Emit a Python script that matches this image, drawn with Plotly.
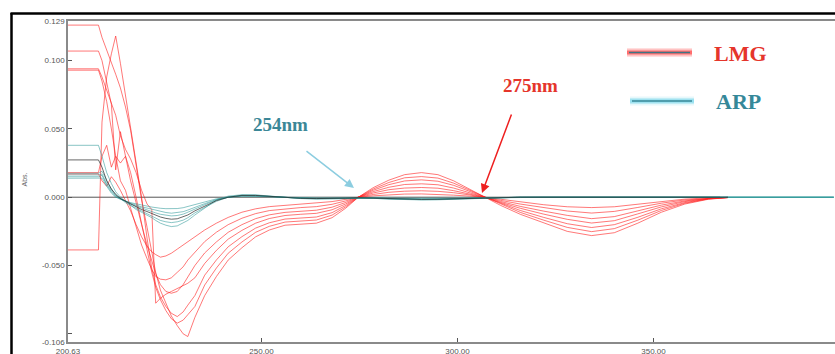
import plotly.graph_objects as go

# Wavelength grid (nm) shared by every spectrum
WAVELENGTH = [200.63, 208.4, 209.3, 210.5, 211.7, 212.8, 214.0, 215.3, 216.6, 218.0,
              219.4, 220.8, 222.0, 223.0, 224.2, 225.6, 227.0, 228.5, 230.0, 231.2,
              233.0, 235.5, 238.5, 241.5, 245.0, 248.5, 252.0, 256.0, 260.0, 264.0,
              268.0, 271.5, 274.7, 278.5, 282.5, 286.5, 290.8, 295.0, 299.0, 303.0,
              306.9, 311.0, 316.0, 322.0, 328.0, 334.2, 340.0, 346.0, 352.0, 358.0,
              364.0, 369.0, 380.0, 396.0]

# LMG derivative spectra (Abs.)
LMG_1 = [0.017, 0.017, 0.012, 0.008, 0.015, 0.011, 0.005, -0.002, -0.010, -0.020,
         -0.029, -0.036, -0.040, -0.042, -0.0439, -0.043, -0.041, -0.038, -0.035, -0.032,
         -0.029, -0.024, -0.019, -0.0148, -0.011, -0.0085, -0.0069, -0.006, -0.0052, -0.0044,
         -0.0032, -0.0016, 0.0, 0.001, 0.0018, 0.0023, 0.0024, 0.0021, 0.0015, 0.0008,
         0.0, -0.0015, -0.0035, -0.0055, -0.007, -0.0076, -0.007, -0.0052, -0.003, -0.0014,
         -0.0005, -0.0001, None, None]
LMG_2 = [0.018, 0.018, 0.030, 0.038, 0.022, 0.030, 0.012, 0.005, -0.008, -0.022,
         -0.035, -0.045, -0.053, -0.058, -0.060, -0.0605, -0.059, -0.055, -0.051, -0.046,
         -0.040, -0.0325, -0.0256, -0.0201, -0.0154, -0.012, -0.0098, -0.0085, -0.0076, -0.0069,
         -0.0052, -0.0027, 0.0, 0.002, 0.0036, 0.0044, 0.0047, 0.0043, 0.0033, 0.0017,
         0.0, -0.0023, -0.005, -0.0078, -0.0101, -0.0116, -0.0104, -0.0075, -0.0044, -0.002,
         -0.0007, -0.0001, None, None]
LMG_3 = [0.093, 0.093, 0.085, 0.070, 0.050, 0.030, 0.025, 0.030, 0.012, -0.005,
         -0.020, -0.035, -0.047, -0.056, -0.064, -0.069, -0.0703, -0.069, -0.064, -0.058,
         -0.050, -0.0408, -0.0327, -0.0257, -0.0201, -0.0157, -0.0129, -0.0111, -0.0102, -0.0095,
         -0.0073, -0.0038, 0.0, 0.0031, 0.0055, 0.0067, 0.0071, 0.0066, 0.0048, 0.0026,
         0.0, -0.0031, -0.0067, -0.0102, -0.0133, -0.0157, -0.0142, -0.010, -0.0058, -0.0027,
         -0.0009, -0.0002, None, None]
LMG_4 = [0.094, 0.094, 0.088, 0.078, 0.068, 0.060, 0.045, 0.035, 0.028, 0.018,
         0.005, -0.005, -0.009, -0.0776, -0.074, -0.071, -0.069, -0.067, -0.065, -0.063,
         -0.059, -0.0485, -0.0389, -0.0307, -0.0243, -0.019, -0.0156, -0.0134, -0.0125, -0.0118,
         -0.0092, -0.0049, 0.0, 0.0041, 0.0073, 0.0093, 0.0098, 0.0091, 0.0067, 0.0035,
         0.0, -0.0038, -0.0081, -0.0124, -0.0162, -0.0189, -0.0172, -0.0122, -0.0071, -0.0032,
         -0.001, -0.0002, None, None]
LMG_5 = [-0.0386, -0.0386, 0.055, 0.088, 0.105, 0.118, 0.098, 0.075, 0.050, 0.025,
         0.000, -0.030, -0.052, -0.064, -0.073, -0.080, -0.085, -0.0874, -0.084, -0.079,
         -0.072, -0.0571, -0.0459, -0.0363, -0.0289, -0.0226, -0.0187, -0.016, -0.0151, -0.0145,
         -0.0113, -0.006, 0.0, 0.0051, 0.0092, 0.0119, 0.0127, 0.0117, 0.0087, 0.0044,
         0.0, -0.0046, -0.0097, -0.0148, -0.0194, -0.0222, -0.0201, -0.0147, -0.0085, -0.0039,
         -0.0012, -0.0002, None, None]
LMG_6 = [0.107, 0.107, 0.100, 0.085, 0.068, 0.020, 0.048, 0.030, 0.018, 0.000,
         -0.020, -0.040, -0.055, -0.066, -0.075, -0.083, -0.089, -0.0922, -0.090, -0.086,
         -0.080, -0.0643, -0.0518, -0.041, -0.0328, -0.0257, -0.0213, -0.0182, -0.0172, -0.0167,
         -0.0131, -0.007, 0.0, 0.006, 0.0108, 0.0142, 0.0151, 0.014, 0.0103, 0.0052,
         0.0, -0.0053, -0.0111, -0.0168, -0.0221, -0.0252, -0.023, -0.0168, -0.0097, -0.0044,
         -0.0013, -0.0003, None, None]
LMG_7 = [0.126, 0.126, 0.117, 0.108, 0.098, 0.090, 0.080, 0.066, 0.049, 0.025,
         -0.002, -0.022, -0.040, -0.055, -0.068, -0.078, -0.087, -0.094, -0.100, -0.102,
         -0.088, -0.072, -0.058, -0.046, -0.037, -0.029, -0.024, -0.0205, -0.0195, -0.019,
         -0.015, -0.008, 0.0, 0.007, 0.0125, 0.0165, 0.018, 0.0165, 0.012, 0.006,
         0.0, -0.006, -0.0125, -0.019, -0.025, -0.0281, -0.026, -0.019, -0.011, -0.005,
         -0.0015, -0.0003, None, None]

# ARP derivative spectra (Abs.)
ARP_1 = [0.038, 0.038, 0.030, 0.018, 0.010, 0.004, 0.000, -0.003, -0.006, -0.009,
         -0.011, -0.013, -0.015, -0.017, -0.019, -0.0205, -0.0215, -0.021, -0.019, -0.017,
         -0.013, -0.008, -0.002, 0.0008, 0.0018, 0.0017, 0.0008, -0.0004, -0.001, -0.0013,
         -0.0012, -0.0008, -0.0005, -0.0008, -0.0014, -0.0018, -0.002, -0.0019, -0.0015, -0.001,
         -0.0004, 0.0, 0.0, 0.0, 0.0, 0.0002, 0.0004, 0.0002, 0.0, 0.0,
         0.0, 0.0, 0.0, 0.0]
ARP_2 = [0.0175, 0.0175, 0.019, 0.012, 0.006, 0.002, -0.001, -0.004, -0.006, -0.008,
         -0.010, -0.012, -0.014, -0.0155, -0.017, -0.018, -0.0186, -0.018, -0.0168, -0.015,
         -0.0115, -0.0075, -0.003, 0.0, 0.0015, 0.0015, 0.0007, -0.0004, -0.0009, -0.0012,
         -0.0011, -0.0008, -0.0005, -0.0008, -0.0013, -0.0017, -0.0018, -0.0017, -0.0013, -0.0009,
         -0.0004, 0.0, 0.0, 0.0, 0.0, 0.0, 0.0, 0.0, 0.0, 0.0,
         0.0, 0.0, 0.0, 0.0]
ARP_3 = [0.0163, 0.0163, 0.017, 0.010, 0.005, 0.001, -0.001, -0.003, -0.005, -0.0065,
         -0.008, -0.009, -0.0105, -0.0115, -0.0125, -0.0132, -0.0137, -0.0134, -0.0124, -0.011,
         -0.0085, -0.0055, -0.002, 0.0, 0.0011, 0.0011, 0.0005, -0.0003, -0.0007, -0.0009,
         -0.0009, -0.0006, -0.0004, -0.0006, -0.001, -0.0013, -0.0014, -0.0013, -0.001, -0.0007,
         -0.0003, 0.0, 0.0, 0.0, 0.0, 0.0, 0.0, 0.0, 0.0, 0.0,
         0.0, 0.0, 0.0, 0.0]
ARP_4 = [0.015, 0.015, 0.016, 0.009, 0.004, 0.0005, -0.0015, -0.003, -0.0045, -0.0058,
         -0.007, -0.008, -0.009, -0.0098, -0.0106, -0.0112, -0.0117, -0.0114, -0.0106, -0.0094,
         -0.0073, -0.0047, -0.0017, 0.0, 0.0009, 0.0009, 0.0004, -0.0002, -0.0006, -0.0008,
         -0.0008, -0.0005, -0.0003, -0.0005, -0.0009, -0.0011, -0.0012, -0.0011, -0.0009, -0.0006,
         -0.0003, 0.0, 0.0, 0.0, 0.0, 0.0, 0.0, 0.0, 0.0, 0.0,
         0.0, 0.0, 0.0, 0.0]
ARP_5 = [0.0139, 0.0139, 0.014, 0.008, 0.003, 0.0, -0.0015, -0.0028, -0.004, -0.005,
         -0.0058, -0.0065, -0.0072, -0.0077, -0.0081, -0.0084, -0.0085, -0.0083, -0.0077, -0.0068,
         -0.0053, -0.0034, -0.0012, 0.0, 0.0007, 0.0007, 0.0003, -0.0002, -0.0004, -0.0006,
         -0.0006, -0.0004, -0.0002, -0.0004, -0.0007, -0.0008, -0.0009, -0.0008, -0.0007, -0.0005,
         -0.0002, 0.0, 0.0, 0.0, 0.0, 0.0, 0.0, 0.0, 0.0, 0.0,
         0.0, 0.0, 0.0, 0.0]
ARP_REF = [0.0273, 0.0273, 0.022, 0.012, 0.006, 0.002, -0.001, -0.003, -0.005, -0.007,
           -0.009, -0.0105, -0.012, -0.013, -0.0145, -0.0155, -0.0161, -0.0158, -0.0145, -0.013,
           -0.010, -0.0065, -0.0025, 0.0, 0.0013, 0.0013, 0.0006, -0.0003, -0.0008, -0.001,
           -0.001, -0.0007, -0.0004, -0.0007, -0.0012, -0.0015, -0.0016, -0.0015, -0.0012, -0.0008,
           -0.0003, 0.0, 0.0, 0.0, 0.0, 0.0, 0.0, 0.0, 0.0, 0.0,
           0.0, 0.0, None, None]

# dark zero baseline of the instrument trace
BASELINE_X = [200.63, 367.0]
BASELINE_Y = [0.0, 0.0]

LMG_SERIES = [LMG_1, LMG_2, LMG_3, LMG_4, LMG_5, LMG_6, LMG_7]
ARP_SERIES = [ARP_1, ARP_2, ARP_3, ARP_4, ARP_5]

X_TICKS = [200.63, 250, 300, 350]
X_TICK_TEXT = ["200.63", "250.00", "300.00", "350.00"]
Y_TICKS = [0.129, 0.1, 0.05, 0.0, -0.05, -0.1, -0.106]
Y_TICK_TEXT = ["0.129", "0.100", "0.050", "0.000", "-0.050", "", "-0.106"]

X_RANGE = [200.63, 396.3]
Y_RANGE = [-0.106, 0.129]

W, H = 835, 354
ML, MT, MB, MR = 68, 21, 12, 0
PW, PH = W - ML - MR, H - MT - MB


def px(x):
    return (x - ML) / PW


def py(y):
    return (H - MB - y) / PH


fig = go.Figure()

fig.add_trace(go.Scatter(x=BASELINE_X, y=BASELINE_Y, mode="lines",
                         line=dict(color="#555555", width=1),
                         hoverinfo="skip", showlegend=False))
for ys in LMG_SERIES:
    fig.add_trace(go.Scatter(x=WAVELENGTH, y=ys, mode="lines",
                             line=dict(color="rgba(255,30,30,0.6)", width=1),
                             hoverinfo="skip", showlegend=False))
for ys in ARP_SERIES:
    fig.add_trace(go.Scatter(x=WAVELENGTH, y=ys, mode="lines",
                             line=dict(color="rgba(40,150,150,0.55)", width=1),
                             hoverinfo="skip", showlegend=False))
fig.add_trace(go.Scatter(x=WAVELENGTH, y=ARP_REF, mode="lines",
                         line=dict(color="rgba(40,40,40,0.7)", width=1),
                         hoverinfo="skip", showlegend=False))

shapes = []
# outer black frame (top and left edges)
shapes.append(dict(type="line", xref="paper", yref="paper",
                   x0=px(11.5), x1=px(11.5), y0=py(13), y1=py(360),
                   line=dict(color="black", width=2.5)))
shapes.append(dict(type="line", xref="paper", yref="paper",
                   x0=px(10.5), x1=px(840), y0=py(13.5), y1=py(13.5),
                   line=dict(color="black", width=2.5)))

# legend swatches with soft glow
def glow_line(x0, x1, y, glow, core):
    out = []
    for wdt, col in [(9, glow.format(0.18)), (6, glow.format(0.35)), (3.5, glow.format(0.6))]:
        out.append(dict(type="line", xref="paper", yref="paper",
                        x0=px(x0), x1=px(x1), y0=py(y), y1=py(y),
                        line=dict(color=col, width=wdt)))
    out.append(dict(type="line", xref="paper", yref="paper",
                    x0=px(x0 + 2), x1=px(x1 - 2), y0=py(y), y1=py(y),
                    line=dict(color=core, width=1.3)))
    return out

shapes += glow_line(627, 692, 52.5, "rgba(255,70,70,{})", "#3f7585")
shapes += glow_line(630, 694, 101, "rgba(120,215,235,{})", "#3a8898")

annotations = [
    dict(text="LMG", xref="paper", yref="paper", x=px(712), y=py(53),
         xanchor="left", yanchor="middle", showarrow=False,
         font=dict(family="Liberation Serif", size=22, color="#e5352b", weight="bold")),
    dict(text="ARP", xref="paper", yref="paper", x=px(714), y=py(101),
         xanchor="left", yanchor="middle", showarrow=False,
         font=dict(family="Liberation Serif", size=22, color="#358899", weight="bold")),
    dict(text="275nm", xref="paper", yref="paper", x=px(530), y=py(85),
         xanchor="center", yanchor="middle", showarrow=False,
         font=dict(family="Liberation Serif", size=19, color="#e5352b", weight="bold")),
    dict(text="254nm", xref="paper", yref="paper", x=px(280), y=py(124),
         xanchor="center", yanchor="middle", showarrow=False,
         font=dict(family="Liberation Serif", size=19, color="#3b8797", weight="bold")),
    # arrows pointing at the crossing points
    dict(text="", xref="paper", yref="paper", x=px(482), y=py(193),
         ax=30, ay=-80, showarrow=True, arrowhead=2, arrowsize=1.2,
         arrowwidth=1.5, arrowcolor="#ee2020"),
    dict(text="", xref="paper", yref="paper", x=px(354), y=py(188),
         ax=-49, ay=-38, showarrow=True, arrowhead=2, arrowsize=1.2,
         arrowwidth=1.5, arrowcolor="#8ccde0"),
    dict(text="Abs.", xref="paper", yref="paper", x=px(18), y=py(180),
         textangle=-90, showarrow=False,
         font=dict(family="Liberation Sans", size=7, color="#666")),
]

axis_font = dict(family="Liberation Sans", size=8, color="#555")

fig.update_layout(
    width=W, height=H,
    margin=dict(l=ML, r=MR, t=MT, b=MB, pad=0, autoexpand=False),
    paper_bgcolor="white", plot_bgcolor="white",
    showlegend=False,
    shapes=shapes,
    annotations=annotations,
    xaxis=dict(range=X_RANGE, tickvals=X_TICKS, ticktext=X_TICK_TEXT,
               ticks="inside", ticklen=4, tickcolor="#555", tickwidth=1,
               ticklabelstandoff=1, automargin=False,
               showline=True, linecolor="#8a8a8a", linewidth=1.5, mirror=True,
               showgrid=False, zeroline=False, tickfont=axis_font),
    yaxis=dict(range=Y_RANGE, tickvals=Y_TICKS, ticktext=Y_TICK_TEXT,
               ticks="inside", ticklen=4, tickcolor="#555", tickwidth=1,
               automargin=False,
               showline=True, linecolor="#8a8a8a", linewidth=1.5, mirror=False,
               showgrid=False, zeroline=False, tickfont=axis_font),
)

fig.write_html("out.html")
